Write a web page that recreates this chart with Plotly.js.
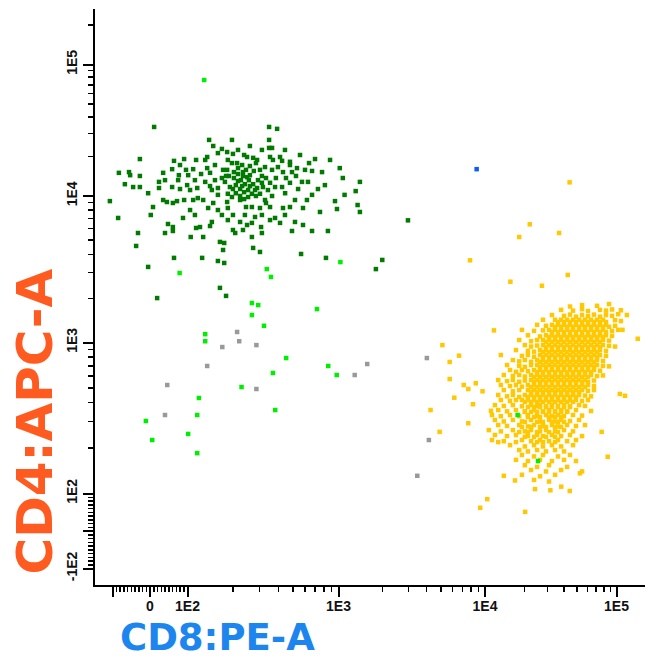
<!DOCTYPE html>
<html>
<head>
<meta charset="utf-8">
<script src="https://cdn.plot.ly/plotly-3.0.1.min.js"></script>
<style>html,body{margin:0;padding:0;background:#fff;}#chart{width:656px;height:660px;}</style>
</head>
<body>
<div id="chart"></div>
<script>
// ---------------- DATA (fluorescence values: [CD8:PE-A, CD4:APC-A]) ----------------
const cd4SinglePos = [
[11,33500],[347,33500],[392,32400],[139,26700],[347,26700],[259,24000],[347,23200],[363,23200],[148,24000],[159,21200],[169,22800],[183,21600],[200,20900],[237,20500],[248,19800],[272,19500],[289,18800],[352,19800],[368,18800],[410,19800],[423,18500],[477,18200],[638,17800],[699,19100],[135,19800],[131,18800],[91,19100],[64,18500],[-27,19100],
[35,15000],[59,16000],[77,14400],[96,15800],[109,16000],[123,14700],[135,16300],[141,15000],[172,15800],[183,15800],[197,17800],[213,17800],[230,17200],[233,15200],[248,13900],[284,17800],[302,15800],[326,16600],[363,15800],[397,16600],[429,15200],[477,17200],[492,15200],[531,16300],[600,15800],[668,15500],[778,15200],[1070,13700],[1400,12800],[-83,15000],[-56,15200],[-53,14400],[-27,14200],
[-67,12300],[-45,11700],[-27,11700],[-5,10500],[24,12800],[24,11500],[40,13200],[59,11700],[75,13200],[80,11300],[99,12100],[104,11100],[116,11500],[131,12800],[141,11900],[152,13200],[159,11500],[177,12800],[191,11700],[289,11500],[316,11700],[341,11100],[380,11700],[423,11700],[477,12600],[540,11300],[628,12800],[731,11300],[1310,10900],
[-107,9230],[-85,7080],[8,8410],[35,9390],[45,9100],[61,8960],[72,9230],[91,9390],[104,8020],[109,9390],[117,9680],[127,9390],[137,8280],[148,8960],[159,8020],[169,7420],[183,9100],[185,8280],[200,7420],[223,9390],[244,8410],[267,8410],[280,7190],[302,8280],[326,9390],[352,8410],[380,7080],[410,6550],[429,8280],[477,8410],[515,9390],[582,8280],[618,9390],[754,7780],[948,9230],[977,8150],[1350,8680],[1400,7780],
[-32,5590],[-37,4560],[48,6440],[40,5590],[61,6140],[61,5770],[105,5250],[114,6050],[121,6140],[127,5250],[141,6240],[145,6650],[164,4860],[175,4780],[172,4280],[159,3600],[175,3490],[125,3780],[64,3780],[-5,3280],[200,5860],[207,5590],[233,5860],[248,6340],[267,6550],[267,5250],[272,4420],[302,4150],[307,6140],[311,5590],[492,5770],[582,6340],[668,5770],[851,5770],[565,4020],[826,3780],[1800,3170],[1990,3660],[2980,6820],[164,2360],[180,2080],[19,2010],
[188,14200],[203,13700],[216,14700],[226,13200],[240,12300],[255,13200],[272,12300],[209,12100],[223,11300],[237,10700],[252,11100],[267,10400],[209,10500],[223,10000],[237,9530],[252,9840],[197,9840],[284,10000],[293,13200],[311,14200],[275,15500],[259,16900],[244,15800],[216,16300],[203,15200],[180,14200],[230,11900],[216,13000],[259,11900],[280,11100],[302,10400],[200,11300],[185,10400],[233,14200],[259,14400],[311,12600],[331,13700],[352,12600],[385,13700],[449,13700],[523,14200],[573,12800],[443,10500],[363,10000],[331,8960],[159,10200],[145,11100],[169,13700],[152,17200],[112,13200],[101,14400],[80,17200],[114,18800],[311,22400],[442,22400],[556,20500],[185,18800],[216,22400],[197,26700],[311,7420],[352,6850],[442,7420],[515,6650],[240,7420],[223,6650],[185,6850],[112,7420],[88,7080],[2,7420],[668,10200],[813,12100],[1020,16300],[879,18800],[1100,10200]
];

const cd4Dim = [
[129,76200],[79,2980],[335,3170],[357,2800],[1030,3540],[267,1860],[294,1800],[267,1540],[321,1300],[720,1690],[131,1140],[131,1020],[450,789],[855,699],[973,609],[368,628],[228,507],[119,429],[116,331],[381,357],[-11,302],[6,226],[101,248],[116,185],[17700,331],[25300,164]
];

const doubleNeg = [
[213,1180],[220,1020],[170,933],[286,961],[135,699],[46,523],[286,492],[40,331],[1290,609],[1570,720],[4010,789],[4140,226],[3450,131]
];

const doublePos = [[8770,16000]];

const cd8SinglePos = [
[44300,1760],[54700,1800],[71100,1780],[87700,1830],
[37900,1670],[46700,1650],[54700,1690],[60700,1640],[74900,1670],[83200,1650],[92500,1680],[108000,1660],
[32300,1540],[39900,1520],[44300,1550],[49200,1500],[54700,1540],[60700,1510],[67400,1550],[74900,1500],[83200,1540],[92500,1520],[103000,1560],[120000,1540],
[27600,1430],[34100,1430],[35900,1380],[37900,1430],[39900,1380],[42100,1430],[44300,1380],[46700,1430],[49200,1380],[51900,1430],[54700,1380],[57600,1430],[60700,1380],[64000,1430],[67400,1380],[71100,1430],[74900,1380],[78900,1430],[83200,1380],[97500,1420],[108000,1400],
[24900,1320],[29100,1300],[32300,1320],[34100,1280],[35900,1320],[37900,1280],[39900,1320],[42100,1280],[44300,1320],[46700,1280],[49200,1320],[51900,1280],[54700,1320],[57600,1280],[60700,1320],[64000,1280],[67400,1320],[71100,1280],[74900,1320],[78900,1280],[83200,1320],[87700,1280],[97500,1300],
[19100,1220],[23600,1200],[27600,1210],[30700,1220],[32300,1180],[34100,1220],[35900,1180],[37900,1220],[39900,1180],[42100,1220],[44300,1180],[46700,1220],[49200,1180],[51900,1220],[54700,1180],[57600,1220],[60700,1180],[64000,1220],[67400,1180],[71100,1220],[74900,1180],[78900,1220],[83200,1180],[92500,1200],[103000,1220],
[21200,1120],[26200,1100],[29100,1120],[30700,1090],[32300,1120],[34100,1090],[35900,1120],[37900,1090],[39900,1120],[42100,1090],[44300,1120],[46700,1090],[49200,1120],[51900,1090],[54700,1120],[57600,1090],[60700,1120],[64000,1090],[67400,1120],[71100,1090],[74900,1120],[78900,1090],[83200,1120],[92500,1110],
[18200,1040],[22400,1020],[24900,1040],[27600,1040],[29100,1010],[30700,1040],[32300,1010],[34100,1040],[35900,1010],[37900,1040],[39900,1010],[42100,1040],[44300,1010],[46700,1040],[49200,1010],[51900,1040],[54700,1010],[57600,1040],[60700,1010],[64000,1040],[67400,1010],[71100,1040],[74900,1010],[78900,1040],[87700,1030],
[20100,961],[22400,940],[24900,955],[27600,961],[29100,933],[30700,961],[32300,933],[34100,961],[35900,933],[37900,961],[39900,933],[42100,961],[44300,933],[46700,961],[49200,933],[51900,961],[54700,933],[57600,961],[60700,933],[64000,961],[67400,933],[71100,961],[74900,933],[78900,961],[87700,950],[97500,940],
[17200,891],[21200,880],[23600,870],[26200,891],[27600,865],[29100,891],[30700,865],[32300,891],[34100,865],[35900,891],[37900,865],[39900,891],[42100,865],[44300,891],[46700,865],[49200,891],[51900,865],[54700,891],[57600,865],[60700,891],[64000,865],[67400,891],[71100,865],[74900,891],[83200,880],
[13200,826],[19100,815],[21200,826],[23600,805],[26200,826],[27600,802],[29100,826],[30700,802],[32300,826],[34100,802],[35900,826],[37900,802],[39900,826],[42100,802],[44300,826],[46700,802],[49200,826],[51900,802],[54700,826],[57600,802],[60700,826],[64000,802],[67400,826],[71100,802],[74900,826],[83200,815],
[16300,765],[18200,750],[20100,765],[22400,745],[24900,765],[26200,743],[27600,765],[29100,743],[30700,765],[32300,743],[34100,765],[35900,743],[37900,765],[39900,743],[42100,765],[44300,743],[46700,765],[49200,743],[51900,765],[54700,743],[57600,765],[60700,743],[64000,765],[67400,743],[71100,765],[78900,755],
[14700,709],[18200,700],[20100,690],[22400,709],[24900,709],[26200,689],[27600,709],[29100,689],[30700,709],[32300,689],[34100,709],[35900,689],[37900,709],[39900,689],[42100,709],[44300,689],[46700,709],[49200,689],[51900,709],[54700,689],[57600,709],[60700,689],[64000,709],[67400,689],[71100,709],[78900,700],[87700,695],
[15500,657],[17200,640],[19100,657],[21200,645],[23600,657],[24900,638],[26200,657],[27600,638],[29100,657],[30700,638],[32300,657],[34100,638],[35900,657],[37900,638],[39900,657],[42100,638],[44300,657],[46700,638],[49200,657],[51900,638],[54700,657],[57600,638],[60700,657],[64000,638],[67400,657],[74900,650],
[13900,609],[16300,600],[18200,609],[20100,595],[22400,609],[23600,591],[24900,609],[26200,591],[27600,609],[29100,591],[30700,609],[32300,591],[34100,609],[35900,591],[37900,609],[39900,591],[42100,609],[44300,591],[46700,609],[49200,591],[51900,609],[54700,591],[57600,609],[60700,591],[64000,609],[71100,600],[78900,605],
[12600,564],[14700,555],[16300,564],[18200,550],[20100,560],[22400,564],[23600,548],[24900,564],[26200,548],[27600,564],[29100,548],[30700,564],[32300,548],[34100,564],[35900,548],[37900,564],[39900,548],[42100,564],[44300,548],[46700,564],[49200,548],[51900,564],[54700,548],[57600,564],[60700,548],[67400,560],
[13200,523],[15500,515],[17200,523],[19100,510],[21200,523],[22400,507],[23600,523],[24900,507],[26200,523],[27600,507],[29100,523],[30700,507],[32300,523],[34100,507],[35900,523],[37900,507],[39900,523],[42100,507],[44300,523],[46700,507],[49200,523],[51900,507],[54700,523],[57600,507],[60700,523],[67400,515],
[13900,484],[16300,475],[18200,484],[21200,484],[22400,470],[23600,484],[24900,470],[26200,484],[27600,470],[29100,484],[30700,470],[32300,484],[34100,470],[35900,484],[37900,470],[39900,484],[42100,470],[44300,484],[46700,470],[49200,484],[51900,470],[54700,484],[60700,478],[67400,484],
[12600,449],[14700,440],[16300,449],[18200,436],[20100,449],[21200,436],[22400,449],[23600,436],[24900,449],[26200,436],[27600,449],[29100,436],[30700,449],[32300,436],[34100,449],[35900,436],[37900,449],[39900,436],[42100,449],[44300,436],[46700,449],[49200,436],[51900,449],[57600,445],[64000,440],
[13200,416],[15500,410],[17200,416],[19100,416],[20100,404],[21200,416],[22400,404],[23600,416],[24900,404],[26200,416],[27600,404],[29100,416],[30700,404],[32300,416],[34100,404],[35900,416],[37900,404],[39900,416],[42100,404],[44300,416],[46700,404],[49200,416],[54700,410],[60700,416],
[11900,385],[13900,380],[16300,385],[19100,378],[22400,385],[24900,380],[26200,385],[29100,378],[32300,385],[35900,380],[39900,385],[44300,378],[51900,385],[57600,380],
[21200,374],[23600,374],[26200,374],[29100,374],[32300,374],[35900,374],[39900,374],[44300,374],
[12600,357],[14700,350],[17200,357],[20100,350],[23600,357],[27600,350],[30700,357],[34100,350],[37900,357],[42100,350],[49200,357],[64000,352],
[20100,347],[22400,347],[24900,347],[27600,347],[30700,347],[34100,347],[37900,347],[42100,347],
[11300,331],[13200,325],[15500,331],[18200,325],[21200,331],[24900,325],[29100,331],[32300,325],[35900,331],[39900,325],[46700,331],[54700,328],
[21200,321],[23600,321],[26200,321],[30700,321],[34100,321],[37900,321],
[11900,307],[13900,300],[16300,307],[19100,300],[22400,307],[26200,300],[30700,307],[34100,300],[37900,307],[44300,302],[51900,307],
[20100,298],[24900,298],[27600,298],[32300,298],[35900,298],[39900,298],
[12600,284],[14700,280],[18200,284],[21200,278],[23600,284],[27600,280],[32300,284],[35900,278],[42100,284],[49200,280],[57600,284],
[19100,276],[22400,276],[26200,276],[29100,276],[34100,276],[37900,276],
[10700,263],[13200,258],[16300,263],[20100,258],[22400,263],[26200,258],[29100,263],[34100,258],[39900,263],[46700,258],
[18200,255],[21200,255],[24900,255],[30700,255],[35900,255],
[11900,244],[14700,240],[17200,244],[21200,240],[24900,244],[27600,240],[32300,244],[37900,240],[44300,244],[54700,240],
[20100,237],[23600,237],[29100,237],[34100,237],
[11300,226],[13900,222],[19100,226],[22400,222],[26200,226],[30700,222],[35900,226],[42100,222],[49200,226],
[17200,219],[24900,219],[27600,219],[34100,219],
[15500,209],[20100,205],[23600,209],[27600,205],[32300,209],[37900,205],[46700,209],
[18200,194],[21200,190],[24900,194],[29100,190],[34100,194],[39900,190],
[19100,180],[23600,176],[27600,180],[35900,176],[44300,180],
[17200,167],[21200,164],[26200,167],[32300,164],[39900,167],[49200,164],
[20100,154],[24900,150],[30700,154],[42100,150],
[22400,143],[29100,140],[37900,143],[54700,140],
[19100,133],[26200,130],[34100,133],
[23600,123],[30700,120],
[145000,1060],[11700,1210],[5120,961],[6650,818],[5740,743],[5740,573],[7160,523],[7690,492],[8650,537],[9620,475],[6170,431],[8280,390],[4250,357],[7690,292],[4900,256],[11100,353],[12600,219],[13900,131],[16900,122],[24000,107],[10400,85],[9270,62],[20200,51],[31400,105],[38000,111],[44100,104],[85700,175],[52700,136],[77100,256],[116000,444],[106000,456],[111000,1220],
[44000,12700],[21900,6410],[18200,5250],[36600,5590],[7900,3640],[15600,2600],[27100,2440],[42600,2890]
];

// axis ticks (values) and labels
const xMajorVals = [-100, 0, 100, 1000, 10000, 100000];
const xMajorText = ['', '0', '1E2', '1E3', '1E4', '1E5'];
const yMajorVals = [-100, 0, 100, 1000, 10000, 100000];
const yMajorText = ['-1E2', '', '1E2', '1E3', '1E4', '1E5'];
const minorVals = [-90,-80,-70,-60,-50,-40,-30,-20,-10,10,20,30,40,50,60,70,80,90,
  200,300,400,500,600,700,800,900,2000,3000,4000,5000,6000,7000,8000,9000,
  20000,30000,40000,50000,60000,70000,80000,90000,200000];

// ---------------- biexponential-like display scale ----------------
function scaleT(v) {
  if (v <= 100) return v * 0.375;
  const L = Math.log10(v);
  if (L <= 3) return 37.5 + (L - 2) * 151;
  if (L <= 4) return 188.5 + (L - 3) * 146.5;
  return 335 + (L - 4) * 131.5;
}

function mk(pairs, color) {
  return {
    type: 'scatter', mode: 'markers', hoverinfo: 'skip',
    x: pairs.map(p => scaleT(p[0])),
    y: pairs.map(p => scaleT(p[1])),
    marker: {symbol: 'square', size: 4.5, color: color, line: {width: 0}}
  };
}

const traces = [
  mk(cd8SinglePos, '#FFC800'),
  mk(cd4SinglePos, '#007A00'),
  mk(cd4Dim, '#00EE00'),
  mk(doubleNeg, '#999999'),
  mk(doublePos, '#0A5CFF')
];

const tickFont = {family: 'Liberation Sans, Arial, sans-serif', size: 14, color: '#111', weight: 'bold'};
const baseAxis = {
  tickmode: 'array', ticks: 'outside', ticklen: 10, tickwidth: 2, tickcolor: '#000',
  showline: true, linewidth: 2, linecolor: '#000', showgrid: false, zeroline: false,
  tickfont: tickFont, fixedrange: true,
  minor: {tickmode: 'array', tickvals: minorVals.map(scaleT), ticks: 'outside', ticklen: 5, tickwidth: 1.5, tickcolor: '#000', showgrid: false}
};

const layout = {
  width: 656, height: 660,
  margin: {l: 95, r: 11, t: 9, b: 75},
  paper_bgcolor: '#fff', plot_bgcolor: '#fff',
  showlegend: false,
  xaxis: Object.assign({}, baseAxis, {
    range: [-55, 495], ticklabelstandoff: -3,
    tickvals: xMajorVals.map(scaleT), ticktext: xMajorText
  }),
  yaxis: Object.assign({}, baseAxis, {
    range: [-54, 522], tickangle: -90,
    tickvals: yMajorVals.map(scaleT), ticktext: yMajorText
  }),
  annotations: [
    {text: 'CD8:PE-A', xref: 'paper', yref: 'paper', x: 0.2236, y: -0.1294, xanchor: 'center', yanchor: 'bottom', showarrow: false, borderpad: 0,
     font: {family: 'DejaVu Sans, sans-serif', size: 37, color: '#1C86EE', weight: 'bold'}},
    {text: 'CD4:APC-A', xref: 'paper', yref: 'paper', x: -0.1082, y: 0.2847, xanchor: 'center', yanchor: 'middle', showarrow: false, textangle: -90, borderpad: 0,
     font: {family: 'DejaVu Sans, sans-serif', size: 50, color: '#FF5A1F', weight: 'bold'}}
  ]
};

Plotly.newPlot('chart', traces, layout, {staticPlot: true, displayModeBar: false});
</script>
</body>
</html>
